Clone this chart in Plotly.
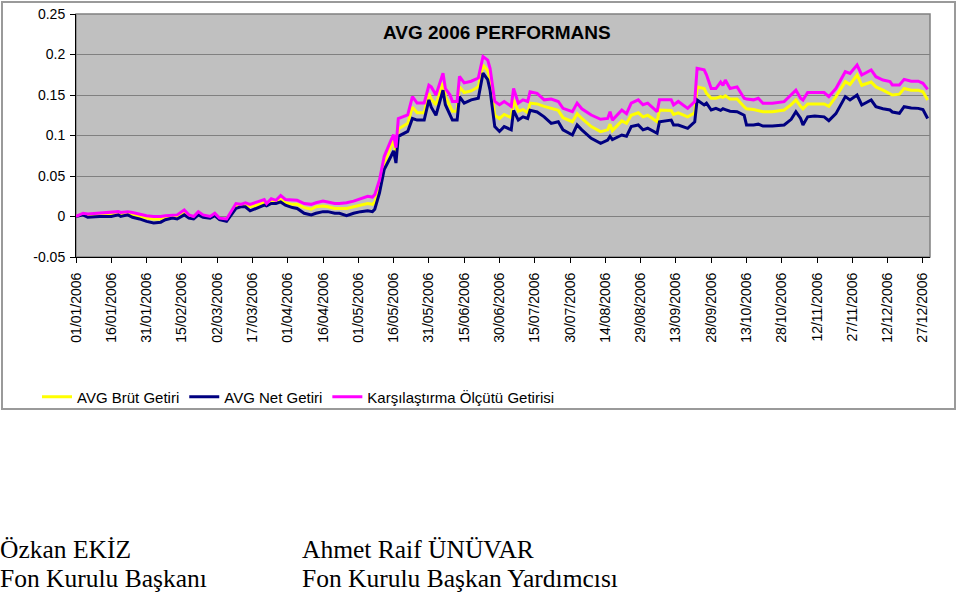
import plotly.graph_objects as go

dates = [
    "2006-01-01", "2006-01-04", "2006-01-06", "2006-01-11", "2006-01-16", "2006-01-19", "2006-01-20",
    "2006-01-23", "2006-01-25", "2006-01-28", "2006-01-31", "2006-02-03", "2006-02-06", "2006-02-08",
    "2006-02-11", "2006-02-13", "2006-02-16", "2006-02-18", "2006-02-20", "2006-02-22", "2006-02-24",
    "2006-02-27", "2006-03-01", "2006-03-03", "2006-03-06", "2006-03-10", "2006-03-12", "2006-03-14",
    "2006-03-16", "2006-03-19", "2006-03-22", "2006-03-23", "2006-03-25", "2006-03-27", "2006-03-29",
    "2006-03-31", "2006-04-03", "2006-04-05", "2006-04-08", "2006-04-11", "2006-04-13", "2006-04-16",
    "2006-04-18", "2006-04-21", "2006-04-23", "2006-04-26", "2006-04-29", "2006-05-02", "2006-05-05",
    "2006-05-07", "2006-05-08", "2006-05-10", "2006-05-12", "2006-05-15", "2006-05-16", "2006-05-17",
    "2006-05-18", "2006-05-22", "2006-05-24", "2006-05-26", "2006-05-29", "2006-05-31", "2006-06-01",
    "2006-06-03", "2006-06-06", "2006-06-07", "2006-06-09", "2006-06-10", "2006-06-12", "2006-06-13",
    "2006-06-15", "2006-06-18", "2006-06-21", "2006-06-23", "2006-06-25", "2006-06-26", "2006-06-28",
    "2006-06-30", "2006-07-02", "2006-07-05", "2006-07-06", "2006-07-08", "2006-07-10", "2006-07-12",
    "2006-07-13", "2006-07-16", "2006-07-19", "2006-07-22", "2006-07-25", "2006-07-27", "2006-07-31",
    "2006-08-02", "2006-08-04", "2006-08-08", "2006-08-12", "2006-08-15", "2006-08-16", "2006-08-17",
    "2006-08-21", "2006-08-23", "2006-08-25", "2006-08-28", "2006-08-30", "2006-09-01", "2006-09-05",
    "2006-09-06", "2006-09-11", "2006-09-12", "2006-09-14", "2006-09-18", "2006-09-21", "2006-09-22",
    "2006-09-25", "2006-09-26", "2006-09-28", "2006-09-30", "2006-10-02", "2006-10-03", "2006-10-04",
    "2006-10-06", "2006-10-09", "2006-10-12", "2006-10-13", "2006-10-16", "2006-10-18", "2006-10-20",
    "2006-10-24", "2006-10-29", "2006-11-01", "2006-11-03", "2006-11-05", "2006-11-06", "2006-11-08",
    "2006-11-11", "2006-11-15", "2006-11-17", "2006-11-20", "2006-11-24", "2006-11-26", "2006-11-29",
    "2006-12-01", "2006-12-05", "2006-12-07", "2006-12-10", "2006-12-13", "2006-12-14", "2006-12-17",
    "2006-12-19", "2006-12-22", "2006-12-25", "2006-12-27", "2006-12-29",
]

karsilastirma = [
    0.000, 0.004, 0.003, 0.004, 0.005, 0.006, 0.005,
    0.006, 0.005, 0.003, 0.001, 0.000, 0.000, 0.001,
    0.002, 0.002, 0.008, 0.002, 0.000, 0.006, 0.002,
    0.000, 0.004, -0.002, -0.003, 0.016, 0.015, 0.017,
    0.015, 0.018, 0.021, 0.016, 0.022, 0.020, 0.026,
    0.021, 0.020, 0.020, 0.016, 0.015, 0.017, 0.019,
    0.018, 0.016, 0.016, 0.017, 0.019, 0.022, 0.025,
    0.024, 0.027, 0.045, 0.074, 0.095, 0.101, 0.085,
    0.121, 0.1255, 0.148, 0.140, 0.140, 0.162, 0.160,
    0.150, 0.177, 0.158, 0.150, 0.142, 0.142, 0.173,
    0.165, 0.167, 0.171, 0.1975, 0.193, 0.183, 0.142,
    0.138, 0.142, 0.136, 0.158, 0.140, 0.144, 0.142,
    0.154, 0.152, 0.144, 0.145, 0.142, 0.1335, 0.1294,
    0.140, 0.133, 0.1253, 0.120, 0.121, 0.1294, 0.119,
    0.1315, 0.127, 0.140, 0.144, 0.138, 0.140, 0.1294,
    0.144, 0.144, 0.1377, 0.142, 0.1335, 0.142, 0.183,
    0.181, 0.175, 0.158, 0.158, 0.166, 0.162, 0.1685,
    0.158, 0.160, 0.146, 0.145, 0.144, 0.146, 0.1397,
    0.1397, 0.1418, 0.150, 0.156, 0.146, 0.1438, 0.153,
    0.153, 0.153, 0.148, 0.158, 0.1788, 0.1767, 0.187,
    0.1747, 0.181, 0.1726, 0.1685, 0.1665, 0.1624, 0.1624,
    0.1693, 0.167, 0.167, 0.1644, 0.157,
]

brut_getiri = [
    0.000, 0.003, 0.001, 0.002, 0.003, 0.004, 0.003,
    0.004, 0.002, 0.000, -0.002, -0.003, -0.003, -0.001,
    0.000, 0.000, 0.005, 0.000, -0.001, 0.004, 0.001,
    -0.001, 0.002, -0.003, -0.004, 0.013, 0.013, 0.014,
    0.012, 0.014, 0.017, 0.015, 0.019, 0.018, 0.021,
    0.017, 0.015, 0.015, 0.011, 0.009, 0.012, 0.013,
    0.012, 0.010, 0.010, 0.010, 0.012, 0.014, 0.016,
    0.015, 0.018, 0.035, 0.065, 0.088, 0.093, 0.077,
    0.108, 0.115, 0.135, 0.128, 0.128, 0.152, 0.145,
    0.138, 0.165, 0.148, 0.137, 0.130, 0.130, 0.160,
    0.153, 0.155, 0.160, 0.187, 0.180, 0.170, 0.125,
    0.121, 0.126, 0.122, 0.144, 0.130, 0.132, 0.128,
    0.140, 0.139, 0.136, 0.1335, 0.131, 0.122, 0.117,
    0.127, 0.121, 0.111, 0.1047, 0.107, 0.114, 0.106,
    0.118, 0.115, 0.125, 0.128, 0.123, 0.125, 0.117,
    0.1315, 0.131, 0.126, 0.128, 0.123, 0.128, 0.160,
    0.158, 0.152, 0.146, 0.146, 0.148, 0.147, 0.149,
    0.145, 0.145, 0.1356, 0.133, 0.132, 0.131, 0.1294,
    0.1294, 0.1315, 0.138, 0.144, 0.136, 0.133, 0.139,
    0.139, 0.139, 0.136, 0.148, 0.1665, 0.163, 0.1747,
    0.162, 0.166, 0.160, 0.156, 0.152, 0.150, 0.151,
    0.158, 0.156, 0.156, 0.154, 0.1438,
]

net_getiri = [
    0.000, 0.002, -0.001, 0.000, 0.000, 0.002, -0.000,
    0.002, -0.001, -0.003, -0.006, -0.008, -0.007, -0.004,
    -0.002, -0.003, 0.002, -0.002, -0.003, 0.002, -0.001,
    -0.002, 0.001, -0.004, -0.006, 0.010, 0.012, 0.012,
    0.007, 0.011, 0.014, 0.013, 0.016, 0.016, 0.018,
    0.014, 0.011, 0.010, 0.004, 0.002, 0.004, 0.006,
    0.006, 0.004, 0.004, 0.001, 0.004, 0.006, 0.007,
    0.006, 0.009, 0.029, 0.058, 0.075, 0.081, 0.066,
    0.099, 0.105, 0.121, 0.119, 0.119, 0.144, 0.135,
    0.125, 0.156, 0.138, 0.125, 0.119, 0.119, 0.148,
    0.140, 0.144, 0.146, 0.177, 0.169, 0.156, 0.111,
    0.105, 0.111, 0.107, 0.131, 0.119, 0.123, 0.121,
    0.131, 0.129, 0.123, 0.115, 0.117, 0.107, 0.1006,
    0.113, 0.107, 0.0965, 0.0903, 0.0944, 0.099, 0.095,
    0.1006, 0.099, 0.111, 0.113, 0.107, 0.109, 0.1027,
    0.117, 0.119, 0.113, 0.113, 0.1088, 0.117, 0.1438,
    0.1377, 0.140, 0.1315, 0.1335, 0.131, 0.133, 0.132,
    0.130, 0.1294, 0.125, 0.113, 0.113, 0.114, 0.1117,
    0.1117, 0.113, 0.120, 0.1294, 0.121, 0.113, 0.123,
    0.124, 0.123, 0.1183, 0.127, 0.148, 0.1438, 0.150,
    0.1377, 0.1438, 0.1356, 0.133, 0.1315, 0.129, 0.1274,
    0.1356, 0.134, 0.1335, 0.132, 0.121,
]

series_names = ["AVG Brüt Getiri", "AVG Net Getiri", "Karşılaştırma Ölçütü Getirisi"]
series_colors = ["#FFFF00", "#000080", "#FF00FF"]
title_text = "AVG 2006 PERFORMANS"
signatures = [
    ("Özkan EKİZ", "Fon Kurulu Başkanı"),
    ("Ahmet Raif ÜNÜVAR", "Fon Kurulu Başkan Yardımcısı"),
]

FONT = "Liberation Sans, Arial, sans-serif"
SERIF = "Liberation Serif, Times New Roman, serif"

fig = go.Figure()
for name, vals, col in zip(series_names, [brut_getiri, net_getiri, karsilastirma], series_colors):
    fig.add_trace(go.Scatter(x=dates, y=vals, mode="lines", name=name,
                             line=dict(color=col, width=3)))

W, H = 960, 595
L, R, T, B = 76, 30, 14, 338
pw, ph = W - L - R, H - T - B


def px_x(px):
    return (px - L) / pw


def px_y(py):
    return (H - B - py) / ph


shapes = [
    dict(type="rect", xref="paper", yref="paper",
         x0=px_x(2), x1=px_x(955), y0=px_y(409), y1=px_y(2),
         line=dict(color="#9a9a9a", width=2), fillcolor="rgba(0,0,0,0)", layer="below"),
    dict(type="rect", xref="paper", yref="paper", x0=0, x1=1, y0=0, y1=1,
         line=dict(color="#808080", width=1.5), fillcolor="rgba(0,0,0,0)", layer="below"),
]

annotations = [
    dict(text=title_text, xref="paper", yref="paper", x=px_x(497), y=px_y(33),
         xanchor="center", yanchor="middle", showarrow=False,
         font=dict(family=FONT, size=19, color="black", weight="bold")),
]
sig_x = [-2, 300]
for (n1, n2), sx in zip(signatures, sig_x):
    annotations.append(dict(text=n1, xref="paper", yref="paper", x=px_x(sx), y=px_y(549),
                            xanchor="left", yanchor="middle", showarrow=False,
                            font=dict(family=SERIF, size=25.5, color="black")))
    annotations.append(dict(text=n2, xref="paper", yref="paper", x=px_x(sx), y=px_y(578),
                            xanchor="left", yanchor="middle", showarrow=False,
                            font=dict(family=SERIF, size=25.5, color="black")))

fig.update_layout(
    width=W, height=H,
    margin=dict(l=L, r=R, t=T, b=B, autoexpand=False),
    paper_bgcolor="white",
    plot_bgcolor="#C0C0C0",
    font=dict(family=FONT, size=14, color="black"),
    showlegend=True,
    legend=dict(orientation="h", x=px_x(37), y=px_y(397), xanchor="left", yanchor="middle",
                bgcolor="rgba(0,0,0,0)", font=dict(size=15, family=FONT),
                itemwidth=30, tracegroupgap=0),
    shapes=shapes,
    annotations=annotations,
    xaxis=dict(type="date", range=["2006-01-01", "2006-12-30"],
               tickmode="linear", tick0="2006-01-01", dtick=15 * 86400000,
               tickformat="%d/%m/%Y", tickangle=-90, ticks="outside", ticklen=5,
               tickcolor="black", showgrid=False, showline=True, linecolor="black",
               linewidth=1, zeroline=False, ticklabelstandoff=4,
               tickfont=dict(size=14, family=FONT)),
    yaxis=dict(range=[-0.05, 0.25],
               tickvals=[-0.05, 0, 0.05, 0.1, 0.15, 0.2, 0.25],
               ticktext=["-0.05", "0", "0.05", "0.1", "0.15", "0.2", "0.25"],
               ticks="outside", ticklen=5, tickcolor="black",
               showgrid=True, gridcolor="#808080", gridwidth=1,
               showline=True, linecolor="black", linewidth=1, zeroline=False,
               ticklabelstandoff=2,
               tickfont=dict(size=14, family=FONT)),
)

fig.write_html("out.html")
